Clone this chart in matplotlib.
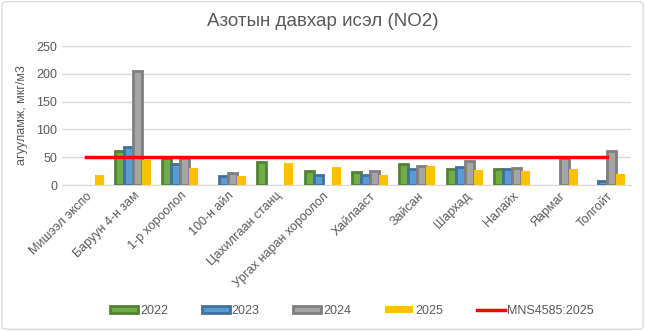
import matplotlib.pyplot as plt
import numpy as np
from matplotlib.patches import FancyBboxPatch

plt.rcParams['font.family'] = ['Liberation Sans', 'DejaVu Sans']

stations = ["Мишээл экспо", "Баруун 4-н зам", "1-р хороолол", "100-н айл",
            "Цахилгаан станц", "Ургах наран хороолол", "Хайлааст", "Зайсан",
            "Шархад", "Налайх", "Яармаг", "Толгойт"]
nan = np.nan
no2_2022 = [nan, 62, 49, nan, 42, 26, 23, 37, 28, 28, nan, nan]
no2_2023 = [nan, 69, 37, 16, nan, 18, 18, 28, 32, 28, nan, 8]
no2_2024 = [nan, 205, 48, 22, nan, nan, 26, 35, 43, 31, 49, 62]
no2_2025 = [18, 45, 31, 17, 40, 32, 18, 34, 27, 25, 29, 20]
standard = [50] * len(stations)

series = [
    ("2022", no2_2022, "#70AD47", "#548235"),
    ("2023", no2_2023, "#5B9BD5", "#41719C"),
    ("2024", no2_2024, "#A5A5A5", "#7F7F7F"),
    ("2025", no2_2025, "#FFC000", None),
]

fig = plt.figure(figsize=(6.45, 3.31), dpi=100)
ax = fig.add_axes([0.096, 0.441, 0.882, 0.420])

x = np.arange(len(stations))
w = 0.19
handles = []
for i, (name, vals, fill, edge) in enumerate(series):
    if edge:
        b = ax.bar(x + (i - 1.5) * w, vals, w, color=fill, edgecolor=edge,
                   linewidth=2, label=name, zorder=3)
    else:
        b = ax.bar(x + (i - 1.5) * w, vals, w, color=fill, label=name, zorder=3)
    handles.append(b)

line, = ax.plot(x, standard, color="#FF0000", linewidth=2.5, label="MNS4585:2025", zorder=4)
handles.append(line)

ax.set_xlim(-0.5, len(stations) - 0.5)
ax.set_ylim(0, 250)
ax.set_yticks(range(0, 251, 50))
ax.grid(axis="y", color="#D9D9D9", linewidth=1, zorder=0)
for s in ["top", "right", "left"]:
    ax.spines[s].set_visible(False)
ax.spines["bottom"].set_color("#D9D9D9")
ax.tick_params(length=0, colors="#595959", labelsize=9)
ax.set_xticks(x)
ax.set_xticklabels(stations, rotation=45, ha="right", rotation_mode="anchor")
ax.set_ylabel("агууламж, мкг/м3", color="#595959", fontsize=9, labelpad=6)

fig.text(0.5, 0.934, "Азотын давхар исэл (NO2)", ha="center", va="center",
         fontsize=13.5, color="#595959")

fig.legend(handles=handles, labels=[h.get_label() for h in handles],
           loc="center", bbox_to_anchor=(0.545, 0.061), ncol=5, frameon=False,
           fontsize=9, labelcolor="#595959", handlelength=2.25, handleheight=0.55,
           columnspacing=2.7, handletextpad=0.15)

fig.patches.append(FancyBboxPatch((0.003, 0.005), 0.994, 0.99,
                                  boxstyle="round,pad=0,rounding_size=0.01",
                                  transform=fig.transFigure, fill=False,
                                  edgecolor="#D9D9D9", linewidth=1))

fig.savefig("out.png", dpi=100)
